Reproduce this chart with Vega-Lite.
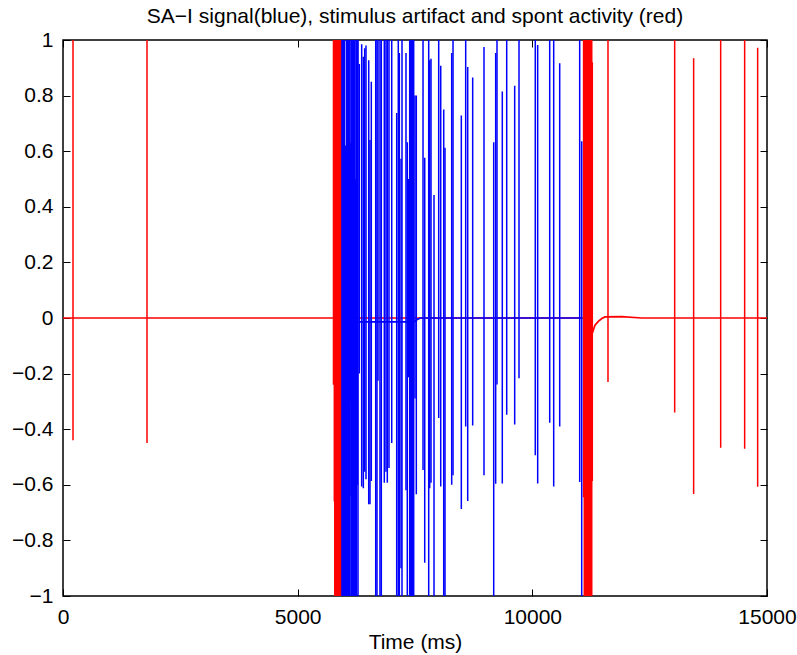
{
  "$schema": "https://vega.github.io/schema/vega-lite/v6.json",
  "autosize": {"type": "none"},
  "width": 704,
  "height": 556,
  "padding": {"left": 63, "top": 40, "right": 30, "bottom": 59},
  "background": "white",
  "title": {
    "text": "SA−I signal(blue), stimulus artifact and spont activity (red)",
    "font": "Liberation Sans",
    "fontSize": 21,
    "fontWeight": "normal",
    "color": "black",
    "anchor": "middle",
    "baseline": "alphabetic",
    "offset": -15
  },
  "config": {
    "view": {"stroke": "black", "strokeWidth": 1.5},
    "font": "Liberation Sans"
  },
  "datasets": {
    "redline": [
      {"t": 0, "v": 0}, {"t": 11107, "v": 0}, {"t": 11265, "v": -0.065},
      {"t": 11278, "v": -0.054}, {"t": 11335, "v": -0.026}, {"t": 11406, "v": -0.012},
      {"t": 11480, "v": -0.002}, {"t": 11548, "v": 0.004}, {"t": 11904, "v": 0.005},
      {"t": 12330, "v": 0}, {"t": 15000, "v": 0}
    ],
    "redspk": [
      {"t": 213, "hi": 1.2, "lo": -0.44}, {"t": 1790, "hi": 1.2, "lo": -0.45},
      {"t": 5763, "hi": 1.2, "lo": -0.24},
      {"t": 5781, "hi": 1.2, "lo": -0.66}, {"t": 5791, "hi": 1.2, "lo": -1.2},
      {"t": 5801, "hi": 1.2, "lo": -1.2}, {"t": 5811, "hi": 1.2, "lo": -1.2},
      {"t": 5821, "hi": 1.2, "lo": -1.2}, {"t": 5831, "hi": 1.2, "lo": -1.2},
      {"t": 5841, "hi": 1.2, "lo": -1.2}, {"t": 5851, "hi": 1.2, "lo": -1.2},
      {"t": 5861, "hi": 1.2, "lo": -1.2}, {"t": 5871, "hi": 1.2, "lo": -1.2},
      {"t": 5881, "hi": 1.2, "lo": -1.2}, {"t": 5891, "hi": 1.2, "lo": -1.2},
      {"t": 5901, "hi": 1.2, "lo": -1.2}, {"t": 5911, "hi": 1.2, "lo": -1.2},
      {"t": 5921, "hi": 1.2, "lo": -1.2}, {"t": 5931, "hi": 1.2, "lo": -1.2},
      {"t": 5938, "hi": 1.2, "lo": -1.2},
      {"t": 11092, "hi": 1.2, "lo": -0.645},
      {"t": 11107, "hi": 1.2, "lo": -1.2}, {"t": 11117, "hi": 1.2, "lo": -1.2},
      {"t": 11127, "hi": 1.2, "lo": -1.2}, {"t": 11137, "hi": 1.2, "lo": -1.2},
      {"t": 11147, "hi": 1.2, "lo": -1.2}, {"t": 11157, "hi": 1.2, "lo": -1.2},
      {"t": 11167, "hi": 1.2, "lo": -1.2}, {"t": 11177, "hi": 1.2, "lo": -1.2},
      {"t": 11187, "hi": 1.2, "lo": -1.2}, {"t": 11197, "hi": 1.2, "lo": -1.2},
      {"t": 11207, "hi": 1.2, "lo": -1.2}, {"t": 11217, "hi": 1.2, "lo": -1.2},
      {"t": 11227, "hi": 1.2, "lo": -1.2}, {"t": 11237, "hi": 1.2, "lo": -1.2},
      {"t": 11247, "hi": 1.2, "lo": -1.2}, {"t": 11257, "hi": 1.2, "lo": -1.2},
      {"t": 11265, "hi": 1.2, "lo": -1.2},
      {"t": 11278, "hi": 0.92, "lo": -0.586},
      {"t": 11612, "hi": 1.2, "lo": -0.23}, {"t": 13033, "hi": 1.2, "lo": -0.34},
      {"t": 13437, "hi": 0.934, "lo": -0.633}, {"t": 14013, "hi": 1.2, "lo": -0.467},
      {"t": 14524, "hi": 1.2, "lo": -0.47}, {"t": 14801, "hi": 0.972, "lo": -0.607}
    ],
    "blueline": [
      {"t": 5938, "v": -0.014}, {"t": 7480, "v": -0.014}, {"t": 7540, "v": -0.006},
      {"t": 7610, "v": 0}, {"t": 11060, "v": 0}
    ],
    "bluespk": [
      {"t": 5945, "hi": 1.2, "lo": -1.2}, {"t": 5955, "hi": 1.2, "lo": -1.2},
      {"t": 5966, "hi": 1.2, "lo": -1.2}, {"t": 5977, "hi": 1.2, "lo": -1.2},
      {"t": 5987, "hi": 1.2, "lo": -1.2}, {"t": 5998, "hi": 1.2, "lo": -1.2},
      {"t": 6009, "hi": 0.62, "lo": -1.2}, {"t": 6019, "hi": 0.62, "lo": -1.2},
      {"t": 6030, "hi": 0.62, "lo": -1.2}, {"t": 6041, "hi": 1.2, "lo": -1.2},
      {"t": 6051, "hi": 1.2, "lo": -1.2}, {"t": 6062, "hi": 1.2, "lo": -1.2},
      {"t": 6072, "hi": 1.2, "lo": -1.2}, {"t": 6083, "hi": 1.2, "lo": -1.2},
      {"t": 6094, "hi": 1.2, "lo": -1.2}, {"t": 6104, "hi": 1.2, "lo": -1.2},
      {"t": 6115, "hi": 0.63, "lo": -0.64}, {"t": 6126, "hi": 0.63, "lo": -0.3},
      {"t": 6136, "hi": 1.2, "lo": -1.2}, {"t": 6147, "hi": 1.2, "lo": -1.2},
      {"t": 6158, "hi": 1.2, "lo": -1.2}, {"t": 6168, "hi": 1.2, "lo": -1.2},
      {"t": 6179, "hi": 1.2, "lo": -1.2}, {"t": 6190, "hi": 1.2, "lo": -1.2},
      {"t": 6200, "hi": 1.2, "lo": -1.2}, {"t": 6211, "hi": 1.2, "lo": -1.2},
      {"t": 6222, "hi": 1.2, "lo": -1.2}, {"t": 6232, "hi": 0.5, "lo": -1.2},
      {"t": 6243, "hi": 0.5, "lo": -1.2}, {"t": 6254, "hi": 1.2, "lo": -1.2},
      {"t": 6264, "hi": 1.2, "lo": -0.6}, {"t": 6275, "hi": 1.2, "lo": -0.6},
      {"t": 6286, "hi": 1.2, "lo": -1.2},
      {"t": 6313, "hi": 0.914, "lo": -0.2}, {"t": 6364, "hi": 0.985, "lo": -0.606},
      {"t": 6399, "hi": 0.94, "lo": -0.612}, {"t": 6428, "hi": 0.97, "lo": -0.553},
      {"t": 6456, "hi": 0.98, "lo": -0.58}, {"t": 6514, "hi": 0.927, "lo": -0.67},
      {"t": 6541, "hi": 0.64, "lo": -0.67}, {"t": 6569, "hi": 0.85, "lo": -0.586},
      {"t": 6663, "hi": 1.2, "lo": -1.2}, {"t": 6690, "hi": 1.2, "lo": -1.2},
      {"t": 6712, "hi": 1.2, "lo": -0.226}, {"t": 6754, "hi": 1.2, "lo": -1.2},
      {"t": 6782, "hi": 1.2, "lo": -1.2}, {"t": 6846, "hi": 1.2, "lo": -0.593},
      {"t": 6882, "hi": 1.2, "lo": -0.553}, {"t": 6910, "hi": 1.2, "lo": -0.593},
      {"t": 6946, "hi": 1.2, "lo": -0.54}, {"t": 7004, "hi": 1.2, "lo": -0.45},
      {"t": 7110, "hi": 0.737, "lo": -1.2}, {"t": 7144, "hi": 1.2, "lo": -1.2},
      {"t": 7166, "hi": 0.953, "lo": -1.2}, {"t": 7202, "hi": 0.573, "lo": -0.9},
      {"t": 7223, "hi": 1.2, "lo": -1.2}, {"t": 7308, "hi": 0.953, "lo": -0.62},
      {"t": 7336, "hi": 0.632, "lo": -1.2}, {"t": 7357, "hi": 0.5, "lo": -0.213},
      {"t": 7387, "hi": 1.2, "lo": -1.2}, {"t": 7408, "hi": 1.2, "lo": -1.2},
      {"t": 7430, "hi": 1.2, "lo": -1.2}, {"t": 7451, "hi": 1.2, "lo": -1.2},
      {"t": 7472, "hi": 1.2, "lo": -1.2}, {"t": 7500, "hi": 0.8, "lo": -0.29},
      {"t": 7528, "hi": 0.8, "lo": -0.634}, {"t": 7671, "hi": 1.2, "lo": -0.547},
      {"t": 7707, "hi": 0.576, "lo": -0.88}, {"t": 7792, "hi": 1.2, "lo": -1.2},
      {"t": 7813, "hi": 0.927, "lo": -0.612}, {"t": 7841, "hi": 0.933, "lo": -0.593},
      {"t": 7905, "hi": 0.442, "lo": -1.2}, {"t": 8005, "hi": 1.2, "lo": -0.36},
      {"t": 8048, "hi": 0.907, "lo": -0.606}, {"t": 8112, "hi": 0.75, "lo": -1.2},
      {"t": 8139, "hi": 0.612, "lo": -1.2}, {"t": 8282, "hi": 0.953, "lo": -0.6},
      {"t": 8310, "hi": 1.2, "lo": -0.566},
      {"t": 8487, "hi": 0.728, "lo": -0.687}, {"t": 8580, "hi": 1.2, "lo": -0.39},
      {"t": 8623, "hi": 0.903, "lo": -0.658}, {"t": 8729, "hi": 0.865, "lo": -0.387},
      {"t": 8970, "hi": 0.975, "lo": -0.566}, {"t": 9177, "hi": 0.632, "lo": -1.2},
      {"t": 9219, "hi": 0.953, "lo": -0.596}, {"t": 9247, "hi": 1.2, "lo": -0.239},
      {"t": 9360, "hi": 0.815, "lo": -0.595}, {"t": 9454, "hi": 1.2, "lo": -0.348},
      {"t": 9624, "hi": 0.835, "lo": -0.383}, {"t": 9716, "hi": 1.2, "lo": -0.217},
      {"t": 10063, "hi": 1.2, "lo": -0.494}, {"t": 10114, "hi": 0.982, "lo": -0.595},
      {"t": 10370, "hi": 1.2, "lo": -0.377}, {"t": 10455, "hi": 1.2, "lo": -0.606},
      {"t": 10583, "hi": 0.916, "lo": -0.39}, {"t": 11009, "hi": 1.2, "lo": -0.59},
      {"t": 11052, "hi": 0.636, "lo": -1.2}
    ]
  },
  "resolve": {"axis": {"x": "independent", "y": "independent"}},
  "layer": [
    {
      "data": {"name": "redline"},
      "mark": {"type": "line", "color": "#ff0000", "strokeWidth": 1.7, "clip": true},
      "encoding": {
        "x": {
          "field": "t", "type": "quantitative",
          "scale": {"domain": [0, 15000], "nice": false, "zero": false},
          "axis": {
            "orient": "bottom", "values": [0, 5000, 10000, 15000], "format": "d",
            "grid": false, "domain": false, "tickSize": -7, "tickColor": "black", "tickWidth": 1,
            "labelPadding": 17, "labelFontSize": 21, "labelColor": "black", "labelFont": "Liberation Sans",
            "labelFlush": false, "labelOverlap": false,
            "title": "Time (ms)", "titleFontSize": 21, "titleFontWeight": "normal", "titleColor": "black",
            "titleFont": "Liberation Sans", "titlePadding": 4
          }
        },
        "y": {
          "field": "v", "type": "quantitative",
          "scale": {"domain": [-1, 1], "nice": false, "zero": false},
          "axis": {
            "orient": "left", "values": [-1, -0.8, -0.6, -0.4, -0.2, 0, 0.2, 0.4, 0.6, 0.8, 1], "format": ".1~f",
            "grid": false, "domain": false, "tickSize": -7, "tickColor": "black", "tickWidth": 1,
            "labelPadding": 17, "labelFontSize": 21, "labelColor": "black", "labelFont": "Liberation Sans",
            "labelFlush": false, "labelOverlap": false, "title": null
          }
        }
      }
    },
    {
      "data": {"name": "redspk"},
      "mark": {"type": "rule", "color": "#ff0000", "strokeWidth": 1.5, "clip": true},
      "encoding": {
        "x": {
          "field": "t", "type": "quantitative",
          "axis": {
            "orient": "top", "values": [0, 5000, 10000, 15000], "labels": false, "title": null,
            "grid": false, "domain": false, "tickSize": -7, "tickColor": "black", "tickWidth": 1
          }
        },
        "y": {
          "field": "hi", "type": "quantitative",
          "axis": {
            "orient": "right", "values": [-1, -0.8, -0.6, -0.4, -0.2, 0, 0.2, 0.4, 0.6, 0.8, 1], "labels": false, "title": null,
            "grid": false, "domain": false, "tickSize": -7, "tickColor": "black", "tickWidth": 1
          }
        },
        "y2": {"field": "lo"}
      }
    },
    {
      "data": {"name": "blueline"},
      "mark": {"type": "line", "color": "#0000ff", "strokeWidth": 1.7, "clip": true},
      "encoding": {
        "x": {"field": "t", "type": "quantitative", "axis": null},
        "y": {"field": "v", "type": "quantitative", "axis": null}
      }
    },
    {
      "data": {"name": "bluespk"},
      "mark": {"type": "rule", "color": "#0000ff", "strokeWidth": 1.5, "clip": true},
      "encoding": {
        "x": {"field": "t", "type": "quantitative", "axis": null},
        "y": {"field": "hi", "type": "quantitative", "axis": null},
        "y2": {"field": "lo"}
      }
    }
  ]
}
